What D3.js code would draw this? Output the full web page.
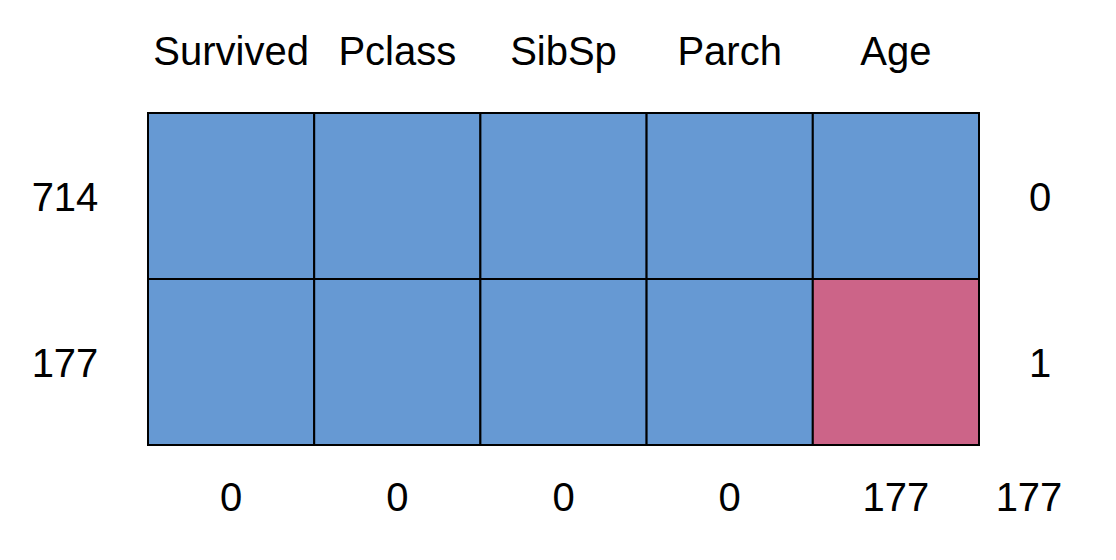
<!DOCTYPE html>
<html><head><meta charset="utf-8">
<script src="https://cdn.jsdelivr.net/npm/d3@7"></script>
<style>body{margin:0;background:#fff}</style>
</head><body>
<svg id="chart" width="1116" height="560"></svg>
<script>
const variables = ["Survived", "Pclass", "SibSp", "Parch", "Age"];
const rowCounts = [714, 177];
const rowMissing = [0, 1];
// 1 = observed, 0 = missing
const pattern = [
  [1, 1, 1, 1, 1],
  [1, 1, 1, 1, 0]
];
const colMissing = [0, 0, 0, 0, 177];
const totalMissing = 177;

const svg = d3.select("#chart");
const font = "'Liberation Sans', Arial, sans-serif";
const fs = 40;

const x = d3.scaleBand().domain(d3.range(variables.length)).range([148, 979]);
const y = d3.scaleBand().domain(d3.range(rowCounts.length)).range([113, 445]);
const color = d3.scaleOrdinal().domain([1, 0]).range(["#6699D3", "#CC6488"]);

const cells = [];
pattern.forEach((row, i) => row.forEach((v, j) => cells.push({i, j, v})));

svg.append("g").selectAll("rect").data(cells).join("rect")
  .attr("x", d => x(d.j)).attr("y", d => y(d.i))
  .attr("width", x.bandwidth()).attr("height", y.bandwidth())
  .attr("fill", d => color(d.v))
  .attr("stroke", "#000").attr("stroke-width", 2);

const txt = (g) => g.attr("font-family", font).attr("font-size", fs).attr("fill", "#000").attr("text-anchor", "middle");

svg.append("g").call(txt).selectAll("text").data(variables).join("text")
  .attr("x", (d, j) => x(j) + x.bandwidth() / 2).attr("y", 65).text(d => d);

svg.append("g").call(txt).selectAll("text").data(rowCounts).join("text")
  .attr("x", 65).attr("y", (d, i) => y(i) + y.bandwidth() / 2 + 15).text(d => d);

svg.append("g").call(txt).selectAll("text").data(rowMissing).join("text")
  .attr("x", 1040).attr("y", (d, i) => y(i) + y.bandwidth() / 2 + 15).text(d => d);

svg.append("g").call(txt).selectAll("text").data(colMissing).join("text")
  .attr("x", (d, j) => x(j) + x.bandwidth() / 2).attr("y", 511).text(d => d);

svg.append("text").call(txt).attr("x", 1029).attr("y", 511).text(totalMissing);
</script>
</body></html>
